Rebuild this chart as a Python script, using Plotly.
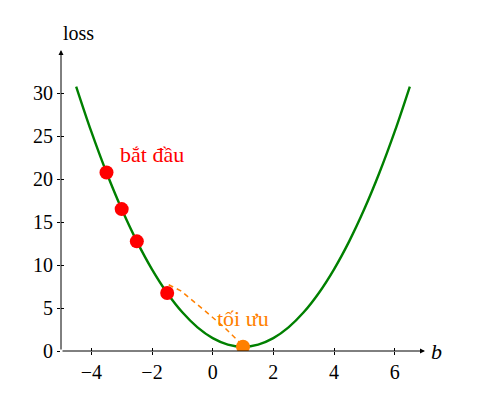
import plotly.graph_objects as go

# curve samples
curve_b = [-4.5, -4, -3.5, -3, -2.5, -2, -1.5, -1, -0.5, 0, 0.5, 1, 1.5, 2, 2.5, 3, 3.5, 4, 4.5, 5, 5.5, 6, 6.5]
curve_loss = [30.75, 25.5, 20.75, 16.5, 12.75, 9.5, 6.75, 4.5, 2.75, 1.5, 0.75, 0.5, 0.75, 1.5, 2.75, 4.5, 6.75, 9.5, 12.75, 16.5, 20.75, 25.5, 30.75]

step_b = [-3.5, -3, -2.5, -1.5]
step_loss = [20.75, 16.5, 12.75, 6.75]

opt_b = [1]
opt_loss = [0.5]

jump_b = [-1.45, -1.05, -0.3, 0.4, 1.0]
jump_loss = [7.7, 7.0, 4.8, 2.7, 0.6]

x_ticks = [-4, -2, 0, 2, 4, 6]
y_ticks = [0, 5, 10, 15, 20, 25, 30]

GREEN = "rgb(0,128,0)"
ORANGE = "rgb(255,128,0)"
RED = "rgb(255,0,0)"
FONT = "Liberation Serif"

fig = go.Figure()
fig.add_trace(go.Scatter(x=curve_b, y=curve_loss, mode="lines", line=dict(color=GREEN, width=2.4, shape="spline"), hoverinfo="skip"))
fig.add_trace(go.Scatter(x=jump_b, y=jump_loss, mode="lines", line=dict(color=ORANGE, width=1.5, dash="5px,4px"), hoverinfo="skip"))
fig.add_trace(go.Scatter(x=step_b, y=step_loss, mode="markers", marker=dict(color=RED, size=14)))
fig.add_trace(go.Scatter(x=opt_b, y=opt_loss, mode="markers", marker=dict(color=ORANGE, size=14)))
# invisible trace for secondary (inside tick) axes
fig.add_trace(go.Scatter(x=[0], y=[0], xaxis="x2", yaxis="y2", mode="markers", marker=dict(opacity=0), hoverinfo="skip"))

fig.add_annotation(x=-2.0, y=22.8, text="bắt đầu", showarrow=False, font=dict(color=RED, size=22, family=FONT))
fig.add_annotation(x=1.0, y=3.8, text="tối ưu", showarrow=False, font=dict(color=ORANGE, size=22, family=FONT))

# axis arrows
fig.add_annotation(x=7, y=0, ax=-5, ay=0, xref="x", yref="y", axref="x", ayref="y", text="", showarrow=True,
                   arrowhead=2, arrowsize=1, arrowwidth=1, arrowcolor="black")
fig.add_annotation(x=-5, y=35, ax=-5, ay=0, xref="x", yref="y", axref="x", ayref="y", text="", showarrow=True,
                   arrowhead=2, arrowsize=1, arrowwidth=1, arrowcolor="black")
fig.add_annotation(x=1.052, y=0, xref="paper", yref="paper", text="<i>b</i>", showarrow=False,
                   yanchor="middle", font=dict(size=22, family=FONT, color="black"))
fig.add_annotation(x=0, y=1.056, xref="paper", yref="paper", text="loss", showarrow=False,
                   yanchor="middle", font=dict(size=20, family=FONT, color="black"))

axis_common = dict(showgrid=False, zeroline=False, showline=False, ticklen=3, tickcolor="black", tickwidth=1)
fig.update_layout(
    width=491, height=415,
    margin=dict(l=53, r=74, t=42, b=72),
    plot_bgcolor="white", paper_bgcolor="white",
    showlegend=False,
    font=dict(family=FONT, size=20, color="black"),
    xaxis=dict(range=[-5, 7], tickvals=x_ticks, ticktext=[str(v).replace("-", "−") for v in x_ticks], ticks="outside", **axis_common),
    yaxis=dict(range=[0, 35], tickvals=y_ticks, ticks="outside", **axis_common),
    xaxis2=dict(range=[-5, 7], overlaying="x", tickvals=x_ticks, showticklabels=False, ticks="inside", anchor="y2", **axis_common),
    yaxis2=dict(range=[0, 35], overlaying="y", tickvals=y_ticks, showticklabels=False, ticks="inside", anchor="x2", **axis_common),
)

fig.write_html("out.html")
